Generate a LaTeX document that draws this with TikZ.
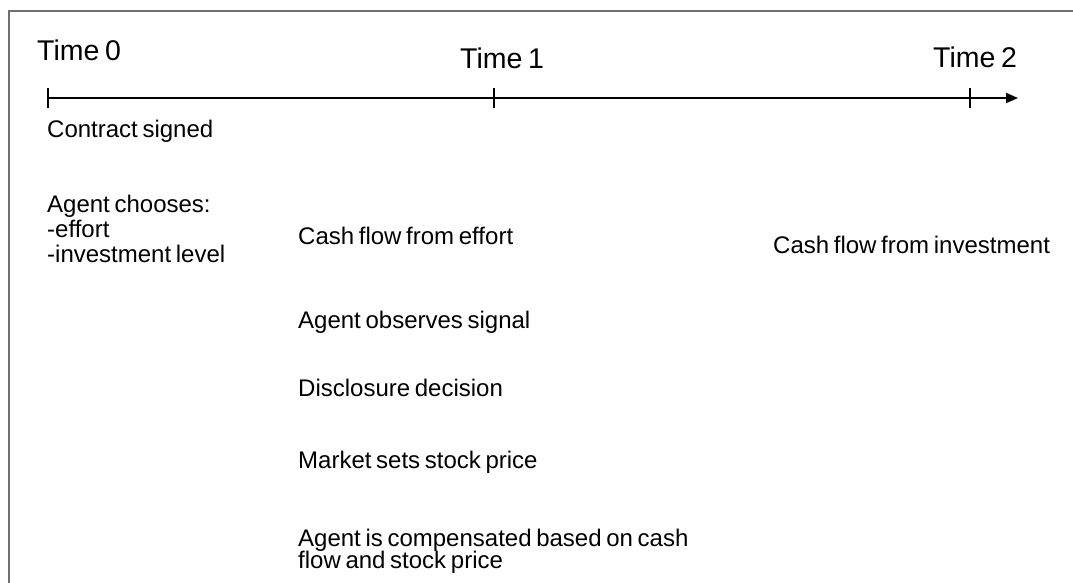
\documentclass[tikz,border=0pt]{standalone}
\usepackage{fontspec}
\setmainfont{Liberation Sans}[WordSpace=0.7]
\usetikzlibrary{arrows.meta}
\begin{document}
\begin{tikzpicture}[x=1pt,y=-1pt,
  frame/.style={draw=black!56,line width=2pt},
  axis/.style={draw=black,line width=1.8pt},
  tick/.style={draw=black,line width=1.8pt},
  timelabel/.style={anchor=base west,inner sep=0pt,font=\fontsize{28.5}{34}\selectfont},
  event/.style={anchor=base west,inner sep=0pt,font=\fontsize{24}{25}\selectfont}]
\useasboundingbox (0,0) rectangle (1073,582);
\fill[white] (0,0) rectangle (1073,582);
\draw[frame] (9,11) rectangle (1090,600);
% timeline
\coordinate (t0) at (48,98);
\coordinate (t1) at (494,98);
\coordinate (t2) at (970,98);
\coordinate (tend) at (1018,98);
\draw[axis,-{Triangle[length=12pt,width=10pt]}] (t0) -- (tend);
\foreach \c in {t0,t1,t2}{
  \draw[tick] ([yshift=-10pt]\c) -- ([yshift=10pt]\c);
}
% time labels
\node[timelabel] (time0) at (37,60) {Time 0};
\node[timelabel] (time1) at (460,68) {Time 1};
\node[timelabel] (time2) at (933,67) {Time 2};
% time 0 events
\node[event] (contract) at (47,137) {Contract signed};
\node[event] (choose) at (47,212) {Agent chooses:};
\node[event] (effort) at (47,237) {-effort};
\node[event] (invest) at (47,262) {-investment level};
% time 1 events
\node[event] (cfe) at (298,244) {Cash flow from effort};
\node[event] (signal) at (298,328) {Agent observes signal};
\node[event] (disc) at (298,396) {Disclosure decision};
\node[event] (market) at (298,468) {Market sets stock price};
\node[event] (comp1) at (298,546) {Agent is compensated based on cash};
\node[event] (comp2) at (298,568) {flow and stock price};
% time 2 events
\node[event] (cfi) at (773,253) {Cash flow from investment};
\end{tikzpicture}
\end{document}
